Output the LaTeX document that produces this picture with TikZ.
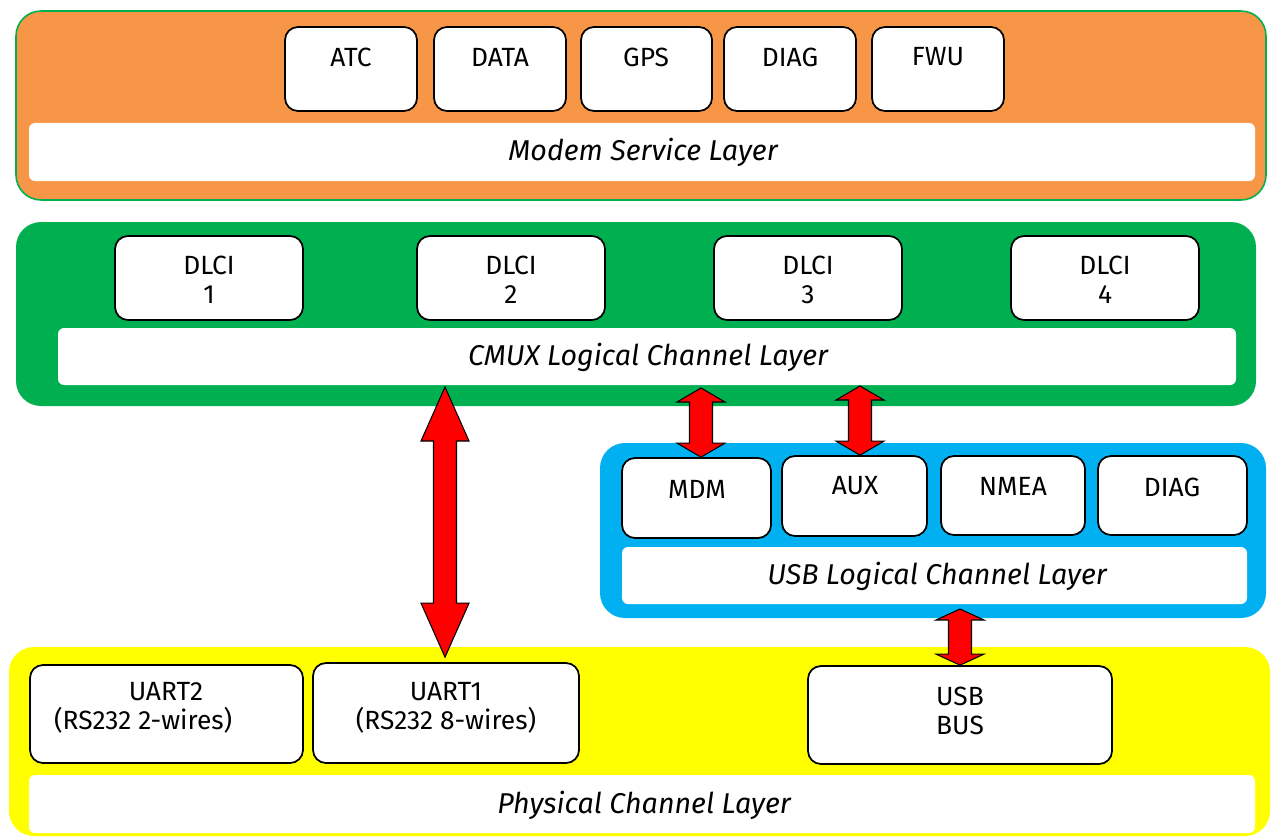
\documentclass[tikz,border=0pt]{standalone}
\usepackage{fontspec}
\setmainfont{Fira Sans}
\usetikzlibrary{fit,calc}
\definecolor{lorange}{HTML}{F79646}
\definecolor{lgreen}{HTML}{00B050}
\definecolor{lblue}{HTML}{00B0F0}
\definecolor{lyellow}{HTML}{FFFF00}
\newcommand{\dblarr}[3]{%
  \draw[arr] (#1) -- ($(#1)+(24,#3)$) -- ($(#1)+(11.5,#3)$) -- ($(#2)+(11.5,-#3)$) -- ($(#2)+(24,-#3)$) -- (#2)
    -- ($(#2)+(-24,-#3)$) -- ($(#2)+(-11.5,-#3)$) -- ($(#1)+(-11.5,#3)$) -- ($(#1)+(-24,#3)$) -- cycle;}
\begin{document}
\begin{tikzpicture}[x=0.02cm,y=-0.02cm,
  layer/.style={rounded corners=0.5cm, inner sep=0pt},
  panel/.style={fill=white, rounded corners=0.12cm, inner sep=0pt},
  box/.style={draw=black, fill=white, line width=1pt, rounded corners=0.26cm, inner sep=0pt},
  lbl/.style={font=\fontsize{15}{16.5}\selectfont, align=center, inner sep=0pt},
  ilbl/.style={font=\fontsize{16.3}{18}\selectfont\itshape, inner sep=0pt},
  arr/.style={fill=red, draw=black, line width=0.6pt, line join=miter}]
\useasboundingbox (0,0) rectangle (1274,838);
% layers
\node[layer, fill=lorange, draw=lgreen, line width=0.9pt, fit={(16,11) (1266,200)}] (modem) {};
\node[layer, fill=lgreen, fit={(16,222) (1256,406)}] (cmux) {};
\node[layer, fill=lblue, fit={(600,443) (1266,618)}] (usbl) {};
\node[layer, fill=lyellow, fit={(9,647) (1270,836)}] (phys) {};
% panels
\node[panel, fit={(29,123) (1255,181)}] (modemp) {};
\node[panel, fit={(58,328) (1236,385)}] (cmuxp) {};
\node[panel, fit={(622,547) (1247,604)}] (usbp) {};
\node[panel, fit={(29,775) (1255,833)}] (physp) {};
\node[ilbl] at (643,152) {Modem Service Layer};
\node[ilbl] at (648,357) {CMUX Logical Channel Layer};
\node[ilbl] at (937,576) {USB Logical Channel Layer};
\node[ilbl] at (644,805) {Physical Channel Layer};
% modem service boxes
\node[box, fit={(285,27) (417,111)}] (atc) {};
\node[box, fit={(434,27) (566,111)}] (data) {};
\node[box, fit={(581,27) (712,111)}] (gps) {};
\node[box, fit={(724,27) (856,111)}] (diag1) {};
\node[box, fit={(872,27) (1004,111)}] (fwu) {};
\node[lbl] at (351,57) {ATC};
\node[lbl] at (500,57) {DATA};
\node[lbl] at (646,57) {GPS};
\node[lbl] at (790,57) {DIAG};
\node[lbl] at (938,57) {FWU};
% DLCI
\node[box, fit={(115,236) (303,320)}] (d1) {};
\node[box, fit={(417,236) (605,320)}] (d2) {};
\node[box, fit={(714,236) (902,320)}] (d3) {};
\node[box, fit={(1011,236) (1199,320)}] (d4) {};
\node[lbl] at (209,280) {DLCI\\1};
\node[lbl] at (511,280) {DLCI\\2};
\node[lbl] at (808,280) {DLCI\\3};
\node[lbl] at (1105,280) {DLCI\\4};
% USB logical boxes
\node[box, fit={(622,458) (771,538)}] (mdm) {};
\node[box, fit={(782,456) (927,536)}] (aux) {};
\node[box, fit={(941,456) (1085,535)}] (nmea) {};
\node[box, fit={(1098,456) (1247,535)}] (diag2) {};
\node[lbl] at (697,489) {MDM};
\node[lbl] at (855,486) {AUX};
\node[lbl] at (1013,486) {NMEA};
\node[lbl] at (1172,487) {DIAG};
% physical boxes
\node[box, fit={(30,665) (303,763)}] (uart2) {};
\node[box, fit={(313,663) (579,763)}] (uart1) {};
\node[box, fit={(808,666) (1112,764)}] (usbbus) {};
\node[lbl] at (166,708) {UART2\\\hspace*{-26pt}(RS232 2-wires)};
\node[lbl] at (446,708) {UART1\\(RS232 8-wires)};
\node[lbl] at (960,711) {USB\\BUS};
% arrows
\coordinate (a1t) at (445,387);
\coordinate (a1b) at (uart1.north -| a1t);
\coordinate (a2t) at (701,388);
\coordinate (a2b) at (mdm.north -| a2t);
\coordinate (a3t) at (860,386);
\coordinate (a3b) at (aux.north -| a3t);
\coordinate (a4t) at (960,609);
\coordinate (a4b) at (usbbus.north -| a4t);
\dblarr{a1t}{$(a1b)+(0,-5)$}{54}
\dblarr{a2t}{a2b}{14}
\dblarr{a3t}{a3b}{14}
\dblarr{a4t}{a4b}{11}
\end{tikzpicture}
\end{document}
